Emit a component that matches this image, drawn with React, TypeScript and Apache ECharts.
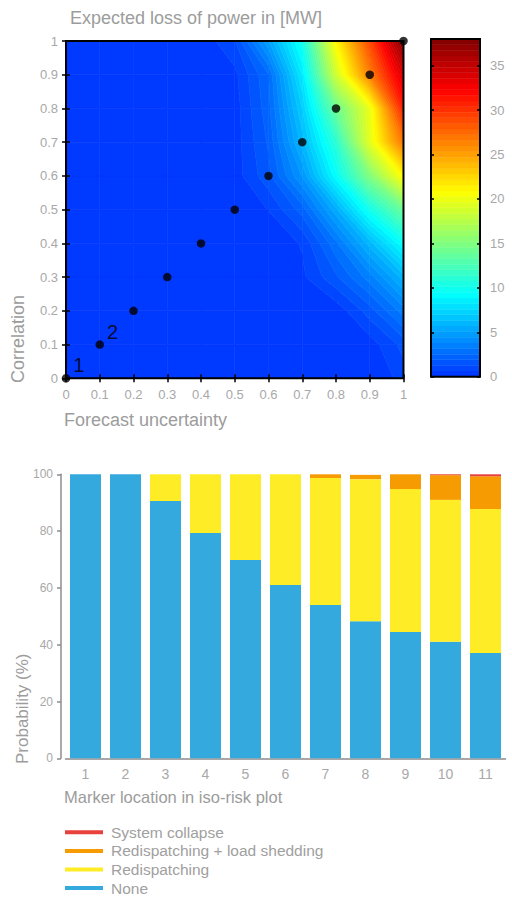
import React, { useEffect, useRef } from 'react';
import * as echarts from 'echarts';

// ---------- Iso-risk contour data ----------
const uncertaintyValues = [0, 0.1, 0.2, 0.3, 0.4, 0.5, 0.6, 0.7, 0.8, 0.9, 1];
const correlationValues = [0, 0.1, 0.2, 0.3, 0.4, 0.5, 0.6, 0.7, 0.8, 0.9, 1];

// Expected loss of power [MW]; one row per correlation value, one column per forecast uncertainty value
const lossCorr00 = [0, 0, 0, 0, 0, 0, 0, 0, 0, 0, 0.9];
const lossCorr01 = [0, 0, 0, 0, 0, 0, 0, 0, 0, 0.3, 1.5];
const lossCorr02 = [0, 0, 0, 0, 0, 0, 0, 0, 0.2, 1.6, 3.5];
const lossCorr03 = [0, 0, 0, 0, 0, 0, 0, 0.5, 1.8, 3.5, 6];
const lossCorr04 = [0, 0, 0, 0, 0, 0, 0.1, 0.7, 3, 6, 9.5];
const lossCorr05 = [0, 0, 0, 0, 0, 0.2, 0.65, 2.2, 5.5, 10, 14];
const lossCorr06 = [0, 0, 0, 0, 0, 0.3, 1.7, 4.5, 9.3, 15, 21];
const lossCorr07 = [0, 0, 0, 0, 0, 0.3, 2.0, 6, 11.1, 19.5, 27];
const lossCorr08 = [0, 0, 0, 0, 0, 0.3, 2.3, 7, 14, 19.8, 31];
const lossCorr09 = [0, 0, 0, 0, 0.1, 0.45, 2.5, 8.3, 18.5, 26.5, 34];
const lossCorr10 = [0, 0, 0, 0, 0.2, 1.2, 5, 10, 21, 29, 38];
const lossGrid = [
  lossCorr00, lossCorr01, lossCorr02, lossCorr03, lossCorr04, lossCorr05,
  lossCorr06, lossCorr07, lossCorr08, lossCorr09, lossCorr10,
];

const markerUncertainty = [0, 0.1, 0.2, 0.3, 0.4, 0.5, 0.6, 0.7, 0.8, 0.9, 1];
const markerCorrelation = [0, 0.1, 0.2, 0.3, 0.4, 0.5, 0.6, 0.7, 0.8, 0.9, 1];
const markerLabels = ['1', '2', '', '', '', '', '', '', '', '', ''];

const colorbarMin = 0;
const colorbarMax = 38;
const colorbarBandCount = 60;
const colormapLow = -8; // value mapped to the start of the jet colormap

// ---------- Stacked bar data ----------
const barCategories = ['1', '2', '3', '4', '5', '6', '7', '8', '9', '10', '11'];
const noneValues = [100, 100, 90.6, 79.3, 69.8, 61.0, 54.0, 48.3, 44.5, 41.0, 37.1];
const redispatchValues = [0, 0, 9.4, 20.7, 30.2, 39.0, 44.7, 50.0, 50.3, 50.0, 50.7];
const sheddingValues = [0, 0, 0, 0, 0, 0, 1.3, 1.5, 5.2, 8.7, 11.5];
const collapseValues = [0, 0, 0, 0, 0, 0, 0, 0, 0, 0.3, 0.7];
const legendOrder = ['System collapse', 'Redispatching + load shedding', 'Redispatching', 'None'];

// ---------- helpers ----------
const step = (colorbarMax - colorbarMin) / colorbarBandCount;
const bandOf = (v: number) =>
  Math.max(0, Math.min(colorbarBandCount - 1, Math.floor((v - colorbarMin) / step)));

function jetColor(v: number) {
  const t = (v - colormapLow) / (colorbarMax - colormapLow);
  const c = (x: number) => Math.max(0, Math.min(1, x));
  const r = c(1.5 - Math.abs(4 * t - 3));
  const g = c(1.5 - Math.abs(4 * t - 2));
  const b = c(1.5 - Math.abs(4 * t - 1));
  return `rgb(${Math.round(r * 255)},${Math.round(g * 255)},${Math.round(b * 255)})`;
}
const bandColor = (k: number) => jetColor(colorbarMin + (k + 0.5) * step);

// cells for the filled contour
const contourCells: number[][] = [];
for (let j = 0; j < correlationValues.length - 1; j++) {
  for (let i = 0; i < uncertaintyValues.length - 1; i++) {
    contourCells.push([
      uncertaintyValues[i], correlationValues[j], uncertaintyValues[i + 1], correlationValues[j + 1],
      lossGrid[j][i], lossGrid[j][i + 1], lossGrid[j + 1][i + 1], lossGrid[j + 1][i],
    ]);
  }
}

const colorbarCells: number[][] = [];
for (let k = 0; k < colorbarBandCount; k++) {
  colorbarCells.push([0, colorbarMin + k * step, 1, colorbarMin + (k + 1) * step, k]);
}

function renderContourCell(_params: any, api: any) {
  const xa = api.value(0), ya = api.value(1), xb = api.value(2), yb = api.value(3);
  const vals = [api.value(4), api.value(5), api.value(6), api.value(7)];
  const pts = [api.coord([xa, ya]), api.coord([xb, ya]), api.coord([xb, yb]), api.coord([xa, yb])];
  const kmin = bandOf(Math.min(...vals));
  const kmax = bandOf(Math.max(...vals));
  const children: any[] = [];
  for (let k = kmin; k <= kmax; k++) {
    const levels: number[] = [];
    if (k > 0) levels.push(colorbarMin + k * step);
    if (k < colorbarBandCount - 1) levels.push(colorbarMin + (k + 1) * step);
    const poly: number[][] = [];
    for (let e = 0; e < 4; e++) {
      const P = pts[e], Q = pts[(e + 1) % 4];
      const a = vals[e], b = vals[(e + 1) % 4];
      if (bandOf(a) === k) poly.push(P);
      const ss: number[] = [];
      for (const L of levels) {
        if ((a < L) !== (b < L)) ss.push((L - a) / (b - a));
      }
      ss.sort((m, n) => m - n);
      for (const s of ss) poly.push([P[0] + s * (Q[0] - P[0]), P[1] + s * (Q[1] - P[1])]);
    }
    if (poly.length >= 3) {
      const col = bandColor(k);
      children.push({
        type: 'polygon',
        shape: { points: poly },
        style: { fill: col, stroke: col, lineWidth: 0.6 },
      });
    }
  }
  return { type: 'group', children };
}

function renderColorbarCell(_params: any, api: any) {
  const p0 = api.coord([api.value(0), api.value(3)]);
  const p1 = api.coord([api.value(2), api.value(1)]);
  const col = bandColor(api.value(4));
  return {
    type: 'rect',
    shape: { x: p0[0], y: p0[1], width: p1[0] - p0[0], height: p1[1] - p0[1] },
    style: { fill: col, stroke: col, lineWidth: 0.5 },
  };
}

const FONT = '"Liberation Sans", "Helvetica Neue", Arial, sans-serif';
const LABEL_GRAY = '#a8a8a8';
const NAME_GRAY = '#9c9c9c';
const AXIS_GRAY = '#8c8c8c';

const insideTick = { show: true, inside: true, length: 4, lineStyle: { color: '#000', width: 1.5 } };

const option: any = {
  animation: false,
  textStyle: { fontFamily: FONT },
  title: {
    text: 'Expected loss of power in [MW]',
    left: 65,
    top: 4,
    textStyle: { fontSize: 18, fontWeight: 'normal', color: NAME_GRAY, fontFamily: FONT },
  },
  grid: [
    { left: 66, top: 41, width: 337.5, height: 337.3, show: true, borderColor: '#000', borderWidth: 2, backgroundColor: 'transparent', z: 5 },
    { left: 431, top: 39, width: 49, height: 337.7, show: true, borderColor: '#000', borderWidth: 2, backgroundColor: 'transparent', z: 5 },
    { left: 65.5, top: 474.3, width: 440, height: 284 },
  ],
  xAxis: [
    {
      type: 'value', gridIndex: 0, min: 0, max: 1, interval: 0.1, position: 'bottom', z: 5,
      axisLine: { show: false }, splitLine: { show: false }, axisTick: insideTick,
      axisLabel: { color: LABEL_GRAY, fontSize: 13, margin: 10 },
    },
    {
      type: 'value', gridIndex: 0, min: 0, max: 1, interval: 0.1, position: 'top', z: 5,
      axisLine: { show: false }, splitLine: { show: false }, axisTick: insideTick, axisLabel: { show: false },
    },
    {
      type: 'value', gridIndex: 1, min: 0, max: 1, show: false,
    },
    {
      type: 'category', gridIndex: 2, data: barCategories,
      axisLine: { show: true, lineStyle: { color: AXIS_GRAY, width: 1.5 } },
      axisTick: { show: false },
      axisLabel: { color: LABEL_GRAY, fontSize: 14, margin: 9 },
    },
  ],
  yAxis: [
    {
      type: 'value', gridIndex: 0, min: 0, max: 1, interval: 0.1, position: 'left', z: 5,
      axisLine: { show: false }, splitLine: { show: false }, axisTick: insideTick,
      axisLabel: { color: LABEL_GRAY, fontSize: 13, margin: 8 },
    },
    {
      type: 'value', gridIndex: 0, min: 0, max: 1, interval: 0.1, position: 'right', z: 5,
      axisLine: { show: false }, splitLine: { show: false }, axisTick: insideTick, axisLabel: { show: false },
    },
    {
      type: 'value', gridIndex: 1, min: colorbarMin, max: colorbarMax, interval: 5, position: 'left', z: 5,
      axisLine: { show: false }, splitLine: { show: false },
      axisTick: { show: true, inside: true, length: 3, lineStyle: { color: '#000', width: 1.5 } },
      axisLabel: { show: false },
    },
    {
      type: 'value', gridIndex: 1, min: colorbarMin, max: colorbarMax, interval: 5, position: 'right', z: 5,
      axisLine: { show: false }, splitLine: { show: false },
      axisTick: { show: true, inside: true, length: 3, lineStyle: { color: '#000', width: 1.5 } },
      axisLabel: { color: LABEL_GRAY, fontSize: 13, margin: 10, showMaxLabel: false },
    },
    {
      type: 'value', gridIndex: 2, min: 0, max: 100, interval: 20, offset: 4.5,
      axisLine: { show: true, lineStyle: { color: AXIS_GRAY, width: 1.5 } },
      axisTick: { show: true, length: 4, lineStyle: { color: AXIS_GRAY, width: 1.5 } },
      splitLine: { show: false },
      axisLabel: { color: LABEL_GRAY, fontSize: 12, margin: 8 },
    },
  ],
  legend: {
    orient: 'vertical',
    left: 65,
    top: 823,
    height: 90,
    padding: 0,
    itemWidth: 38,
    itemHeight: 4,
    itemGap: 0,
    icon: 'rect',
    data: legendOrder,
    textStyle: { color: '#a0a0a0', fontSize: 15.5, lineHeight: 18.6, fontFamily: FONT, padding: [0, 0, 0, 3] },
  },
  graphic: [
    {
      type: 'text', x: 64, y: 420,
      style: { text: 'Forecast uncertainty', fontSize: 18, fill: NAME_GRAY, fontFamily: FONT, align: 'left', verticalAlign: 'middle' },
    },
    {
      type: 'text', x: 17.5, y: 383, rotation: Math.PI / 2,
      style: { text: 'Correlation', fontSize: 18, fill: NAME_GRAY, fontFamily: FONT, align: 'left', verticalAlign: 'middle' },
    },
    {
      type: 'text', x: 64, y: 797,
      style: { text: 'Marker location in iso-risk plot', fontSize: 16.5, fill: NAME_GRAY, fontFamily: FONT, align: 'left', verticalAlign: 'middle' },
    },
    {
      type: 'text', x: 22.5, y: 764, rotation: Math.PI / 2,
      style: { text: 'Probability (%)', fontSize: 17, fill: NAME_GRAY, fontFamily: FONT, align: 'left', verticalAlign: 'middle' },
    },
  ],
  series: [
    {
      type: 'custom', name: 'loss', xAxisIndex: 0, yAxisIndex: 0, z: 1,
      renderItem: renderContourCell, data: contourCells,
      encode: { x: [0, 2], y: [1, 3] }, clip: false, silent: true,
    },
    {
      type: 'custom', name: 'colorbar', xAxisIndex: 2, yAxisIndex: 2, z: 1,
      renderItem: renderColorbarCell, data: colorbarCells,
      encode: { x: [0, 2], y: [1, 3] }, silent: true,
    },
    {
      type: 'scatter', name: 'markers', xAxisIndex: 0, yAxisIndex: 0, z: 10, clip: false,
      symbol: 'circle', symbolSize: 8.5,
      itemStyle: { color: '#000' },
      data: markerUncertainty.map((x, i) => ({
        value: [x, markerCorrelation[i]],
        label: { show: markerLabels[i] !== '' },
      })),
      label: {
        show: false, position: 'right', distance: 3, offset: [0, -13],
        fontSize: 20, color: '#000', fontFamily: FONT,
        formatter: (p: any) => markerLabels[p.dataIndex],
      },
    },
    {
      type: 'bar', name: 'None', stack: 'total', xAxisIndex: 3, yAxisIndex: 4,
      barWidth: 31, data: noneValues, itemStyle: { color: '#34a9dd' },
    },
    {
      type: 'bar', name: 'Redispatching', stack: 'total', xAxisIndex: 3, yAxisIndex: 4,
      barWidth: 31, data: redispatchValues, itemStyle: { color: '#feed26' },
    },
    {
      type: 'bar', name: 'Redispatching + load shedding', stack: 'total', xAxisIndex: 3, yAxisIndex: 4,
      barWidth: 31, data: sheddingValues, itemStyle: { color: '#f69b02' },
    },
    {
      type: 'bar', name: 'System collapse', stack: 'total', xAxisIndex: 3, yAxisIndex: 4,
      barWidth: 31, data: collapseValues, itemStyle: { color: '#e8403b' },
    },
  ],
};

export default function App() {
  const ref = useRef<HTMLDivElement>(null);
  useEffect(() => {
    if (!ref.current) return;
    const chart = echarts.init(ref.current, null, { renderer: 'svg' });
    chart.setOption(option);
    return () => chart.dispose();
  }, []);
  return (
    <div
      ref={ref}
      style={{ position: 'fixed', left: 0, top: 0, width: 512, height: 898, background: '#fff' }}
    />
  );
}
